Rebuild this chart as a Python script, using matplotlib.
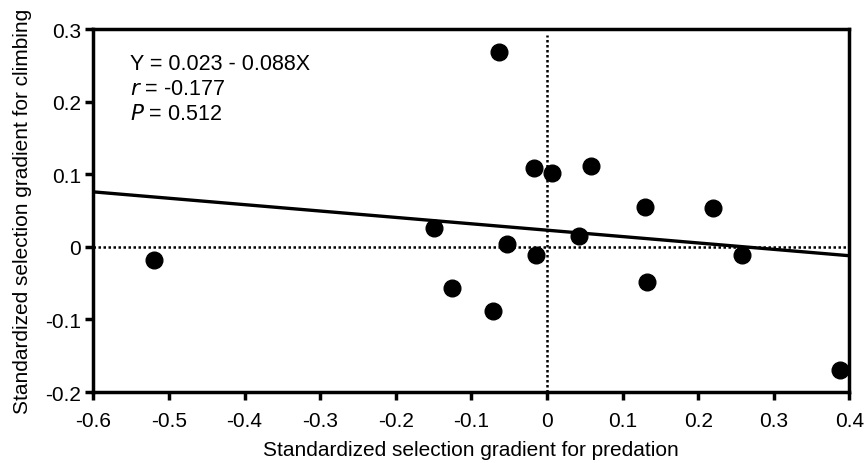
import matplotlib
matplotlib.use("Agg")
import matplotlib.pyplot as plt
import numpy as np

plt.rcParams['font.family'] = ['Liberation Sans', 'DejaVu Sans']

predation = [-0.520, -0.063, -0.017, 0.007, 0.058, -0.150, -0.053, -0.014,
             0.042, 0.130, 0.220, 0.258, 0.132, 0.387, -0.126, -0.071]
climbing = [-0.018, 0.269, 0.108, 0.102, 0.111, 0.026, 0.004, -0.011,
            0.015, 0.055, 0.053, -0.011, -0.048, -0.169, -0.057, -0.089]
intercept = 0.023
slope = -0.088
xticks = [-0.6, -0.5, -0.4, -0.3, -0.2, -0.1, 0, 0.1, 0.2, 0.3, 0.4]
xticklabels = ['-0.6', '-0.5', '-0.4', '-0.3', '-0.2', '-0.1', '0', '0.1', '0.2', '0.3', '0.4']
yticks = [-0.2, -0.1, 0, 0.1, 0.2, 0.3]
yticklabels = ['-0.2', '-0.1', '0', '0.1', '0.2', '0.3']

fig = plt.figure(figsize=(8.68, 4.64), dpi=100)
ax = fig.add_axes([0.1075, 0.153, 0.871, 0.782])

ax.axhline(0, color='black', linestyle=(0, (1, 1)), linewidth=1.8, zorder=1)
ax.plot([0, 0], [-0.2, 0.292], color='black', linestyle=(0, (1, 1)), linewidth=1.8, zorder=1)

xl = np.array([-0.6, 0.4])
ax.plot(xl, intercept + slope * xl, color='black', linewidth=2.4, zorder=2)
ax.plot(predation, climbing, 'o', color='black', markersize=12, zorder=3)

ax.set_xlim(-0.6, 0.4)
ax.set_ylim(-0.2, 0.3)
ax.set_xticks(xticks)
ax.set_xticklabels(xticklabels)
ax.set_yticks(yticks)
ax.set_yticklabels(yticklabels)
for s in ax.spines.values():
    s.set_linewidth(2.5)
ax.tick_params(direction='out', length=6, width=2.5, labelsize=15)
ax.tick_params(axis='x', pad=8)
ax.tick_params(axis='y', pad=3)

ax.set_xlabel('Standardized selection gradient for predation', fontsize=15, labelpad=7)
ax.set_ylabel('Standardized selection gradient for climbing', fontsize=15, labelpad=9)

ax.text(0.048, 0.933, 'Y = 0.023 - 0.088X\n$\\it{r}$ = -0.177\n$\\it{P}$ = 0.512',
        transform=ax.transAxes, fontsize=15.5, va='top', ha='left', linespacing=1.22)

fig.savefig('out.png', dpi=100)
